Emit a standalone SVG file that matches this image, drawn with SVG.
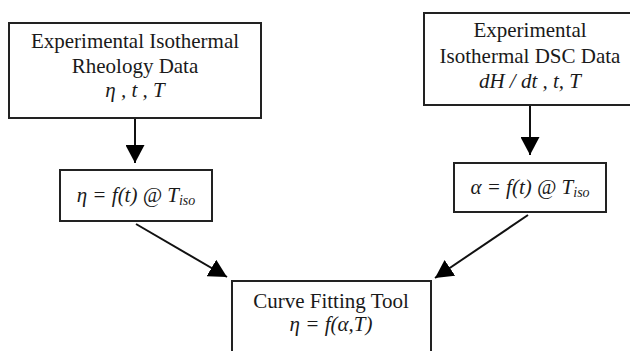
<svg xmlns="http://www.w3.org/2000/svg" width="630" height="351" viewBox="0 0 630 351">
<style>
.box{fill:#fff;stroke:#222;stroke-width:2}
.t{font-family:"Liberation Serif","Times New Roman",serif;font-size:21px;fill:#1a1a1a;text-anchor:middle}
.i{font-style:italic}
.c{stroke:#111;stroke-width:2;fill:none}
</style>
<defs>
<marker id="ah" markerUnits="userSpaceOnUse" markerWidth="19" markerHeight="19" viewBox="0 0 19 19" refX="18" refY="9.5" orient="auto">
<path d="M0,0 L18,9.5 L0,19 z" fill="#000"/>
</marker>
</defs>
<rect width="630" height="351" fill="#fff"/>
<g id="connectors">
<line class="c" x1="135" y1="118" x2="135" y2="163" marker-end="url(#ah)"/>
<line class="c" x1="530" y1="105" x2="530" y2="155" marker-end="url(#ah)"/>
<line class="c" x1="136" y1="224" x2="227" y2="277" marker-end="url(#ah)"/>
<line class="c" x1="528" y1="215" x2="435" y2="278" marker-end="url(#ah)"/>
</g>
<g id="rheology">
<rect class="box" x="9" y="23" width="252" height="95"/>
<text class="t" x="135" y="48">Experimental Isothermal</text>
<text class="t" x="135" y="73">Rheology Data</text>
<text class="t i" x="135" y="97">η , t , T</text>
</g>
<g id="dsc">
<rect class="box" x="424" y="13" width="210" height="92"/>
<text class="t" x="530" y="37">Experimental</text>
<text class="t" x="530" y="63">Isothermal DSC Data</text>
<text class="t i" x="530" y="88">dH / dt , t, T</text>
</g>
<g id="eta-ft">
<rect class="box" x="60" y="170" width="152" height="51"/>
<text class="t i" x="136" y="202">η = f(t) @ T<tspan font-size="14" dy="3">iso</tspan></text>
</g>
<g id="alpha-ft">
<rect class="box" x="454" y="163" width="152" height="49"/>
<text class="t i" x="530" y="194">α = f(t) @ T<tspan font-size="14" dy="3">iso</tspan></text>
</g>
<g id="curve-fitting">
<rect class="box" x="232" y="281" width="199" height="80"/>
<text class="t" x="331" y="308">Curve Fitting Tool</text>
<text class="t i" x="331" y="331">η = f(α,T)</text>
</g>
</svg>
